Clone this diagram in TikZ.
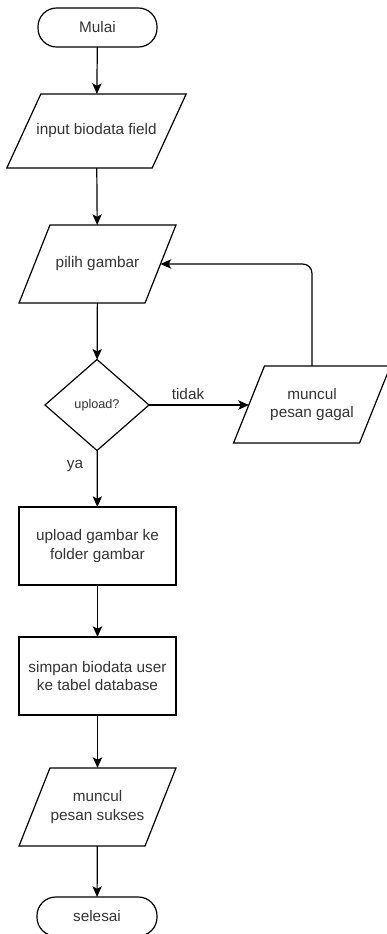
\documentclass[tikz,border=0pt]{standalone}
\usepackage{fontspec}
\setmainfont{Liberation Sans}
\usetikzlibrary{shapes.geometric,arrows.meta}

\definecolor{ink}{HTML}{333333}

\tikzset{
  every node/.style={inner sep=0pt, outer sep=0pt, text=ink, align=center,
    font=\fontsize{11.5}{14.2}\selectfont},
  shapeline/.style={draw=black, line width=0.9pt},
  terminal/.style={shapeline, rectangle, rounded corners=14pt,
    minimum width=89.25pt, minimum height=29.25pt},
  process/.style={shapeline, rectangle, minimum width=117.75pt, minimum height=58.5pt},
  % parallelogram body: the node is the mid-line box, the slanted outline is drawn later
  iobody/.style={rectangle, minimum width=94.5pt, minimum height=58.5pt},
  decision/.style={shapeline, diamond, minimum width=78pt, minimum height=68.25pt,
    font=\fontsize{9.5}{11}\selectfont},
  flow/.style={draw=black, line width=0.9pt,
    -{Stealth[length=8pt,width=7pt,inset=1.8pt]}},
  edgelabel/.style={font=\fontsize{11.5}{14}\selectfont}
}

\begin{document}
\begin{tikzpicture}[x=0.75pt, y=-0.75pt]
  \useasboundingbox (0,0) rectangle (386,934);

  % nodes
  \node[terminal] (mulai)   at (97.5,27.5)  {Mulai};
  \node[iobody, minimum width=109pt, minimum height=55.5pt]
                  (input)   at (96.5,131)   {input biodata field};
  \node[iobody]   (pilih)   at (97.5,264)   {pilih gambar};
  \node[decision] (upload)  at (97,405)     {upload?};
  \node[iobody, minimum height=57.75pt]
                  (gagal)   at (312,404.5)  {muncul\\pesan gagal};
  \node[process]  (simpanfile) at (97.5,546) {upload gambar ke\\folder gambar};
  \node[process]  (simpandb) at (97.5,676)  {simpan biodata user\\ke tabel database};
  \node[iobody]   (sukses)  at (97.5,807)   {muncul\\pesan sukses};
  \node[terminal, minimum width=90pt] (selesai) at (97,916.5) {selesai};

  % slanted outlines of the input/output boxes
  \foreach \n/\s in {input/12.75pt, pilih/11.6pt, gagal/11.6pt, sukses/11.6pt}
    \draw[shapeline, line join=miter]
      ([xshift=\s]\n.north west) -- ([xshift=\s]\n.north east)
      -- ([xshift=-\s]\n.south east) -- ([xshift=-\s]\n.south west) -- cycle;

  % connectors
  \draw[flow] (mulai) -- (input);
  \draw[flow] (input) -- (pilih);
  \draw[flow] (pilih) -- (upload);
  \draw[flow] (upload.east) -- (gagal.west |- upload.east);
  \draw[flow, rounded corners=7pt] (gagal.north) |- (pilih.east);
  \draw[flow] (upload) -- (simpanfile);
  \draw[flow] (simpanfile) -- (simpandb);
  \draw[flow] (simpandb) -- (sukses);
  \draw[flow] (sukses) -- (selesai);

  % branch labels
  \node[edgelabel] (tidak) at (188,394) {tidak};
  \node[edgelabel] (ya)    at (75,466)  {ya};
\end{tikzpicture}
\end{document}
